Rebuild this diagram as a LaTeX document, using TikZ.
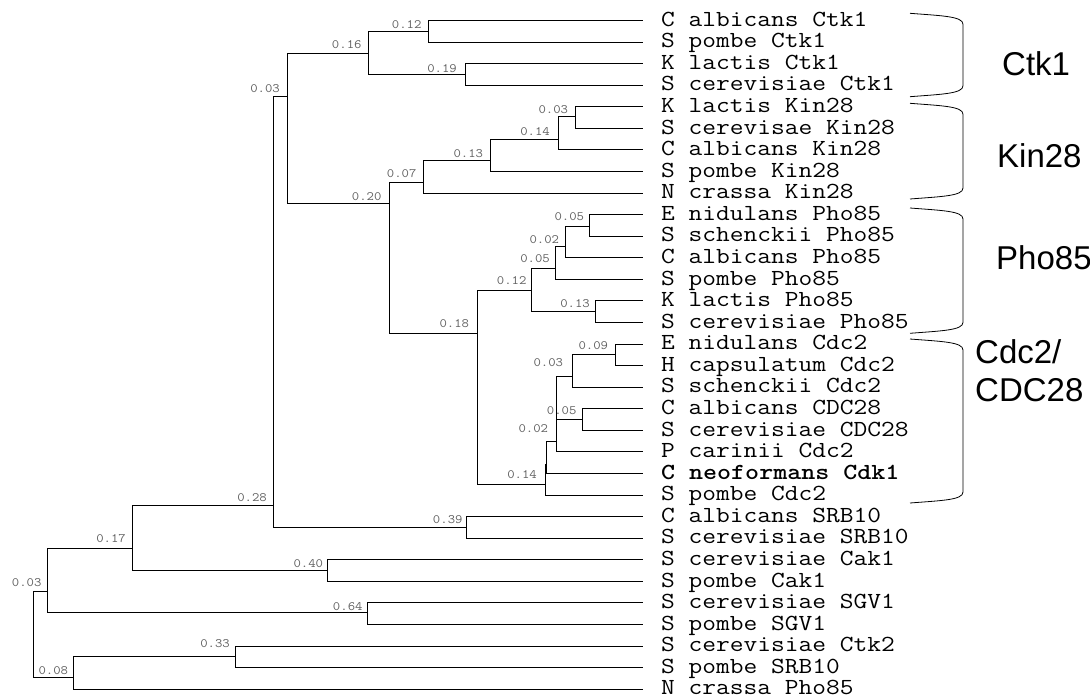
\documentclass[tikz,border=0pt]{standalone}
\usepackage{fontspec}
\newfontfamily\grpfont{Liberation Sans}
\begin{document}
\begin{tikzpicture}[x=1pt,y=-1pt,
  br/.style={line width=0.9pt, black},
  leaf/.style={anchor=base west, inner sep=0pt, font=\fontsize{23}{23}\selectfont\ttfamily},
  blen/.style={anchor=base east, inner sep=0pt, text=black!62, font=\fontsize{12.8}{12.8}\selectfont\ttfamily},
  grp/.style={anchor=base west, inner sep=0pt, align=left, font=\fontsize{33}{38}\selectfont\grpfont},
  brk/.style={line width=0.8pt, black}]
\useasboundingbox (0,0) rectangle (1090,696);

% leaves
\foreach \i/\t in {0/C albicans Ctk1, 1/S pombe Ctk1, 2/K lactis Ctk1, 3/S cerevisiae Ctk1,
  4/K lactis Kin28, 5/S cerevisae Kin28, 6/C albicans Kin28, 7/S pombe Kin28, 8/N crassa Kin28,
  9/E nidulans Pho85, 10/S schenckii Pho85, 11/C albicans Pho85, 12/S pombe Pho85,
  13/K lactis Pho85, 14/S cerevisiae Pho85, 15/E nidulans Cdc2, 16/H capsulatum Cdc2,
  17/S schenckii Cdc2, 18/C albicans CDC28, 19/S cerevisiae CDC28, 20/P carinii Cdc2,
  21/\textbf{C neoformans Cdk1}, 22/S pombe Cdc2, 23/C albicans SRB10, 24/S cerevisiae SRB10,
  25/S cerevisiae Cak1, 26/S pombe Cak1, 27/S cerevisiae SGV1, 28/S pombe SGV1,
  29/S cerevisiae Ctk2, 30/S pombe SRB10, 31/N crassa Pho85} {
  \coordinate (L\i) at (643.3, 20.5+21.57*\i);
  \node[leaf] (T\i) at (661, 26.2+21.57*\i) {\scalebox{1.16}[1]{\t}};
}

% internal nodes (x of vertical, y of incoming branch)
\coordinate (nA) at (428.3,31.5);
\coordinate (nB) at (465,74.7);
\coordinate (nC) at (368.3,53.2);
\coordinate (nD) at (287.3,96.7);
\coordinate (nE) at (389.3,203.3);
\coordinate (nF) at (423.3,182.7);
\coordinate (nG) at (490,160.7);
\coordinate (nH) at (558.3,139);
\coordinate (nI) at (575,116.7);
\coordinate (nJ) at (531.7,290);
\coordinate (nK) at (477.3,333.3);
\coordinate (nL) at (589.3,226);
\coordinate (nM) at (565,246.7);
\coordinate (nN) at (555,268.7);
\coordinate (nO) at (595.7,311.7);
\coordinate (nP) at (615.7,354.3);
\coordinate (nQ) at (572.3,376.7);
\coordinate (nR) at (582.7,419.3);
\coordinate (nS) at (556.7,441);
\coordinate (nT) at (546.7,464);
\coordinate (nU) at (545,484);
\coordinate (nV) at (466.7,527.3);
\coordinate (nW) at (273.3,505.7);
\coordinate (nX) at (132.3,548.3);
\coordinate (nY) at (327.7,570);
\coordinate (nZ) at (47.3,591.7);
\coordinate (nAA) at (367.7,612.7);
\coordinate (nBB) at (73.3,677.7);
\coordinate (nCC) at (235.7,656);
\coordinate (nRoot) at (33.3,634);

% branches
\draw[br] (nA) |- (L0)  (nA) |- (L1);
\draw[br] (nB) |- (L2)  (nB) |- (L3);
\draw[br] (nC) |- (nA)  (nC) |- (nB);
\draw[br] (nI) |- (L4)  (nI) |- (L5);
\draw[br] (nH) |- (nI)  (nH) |- (L6);
\draw[br] (nG) |- (nH)  (nG) |- (L7);
\draw[br] (nF) |- (nG)  (nF) |- (L8);
\draw[br] (nL) |- (L9)  (nL) |- (L10);
\draw[br] (nM) |- (nL)  (nM) |- (L11);
\draw[br] (nN) |- (nM)  (nN) |- (L12);
\draw[br] (nO) |- (L13) (nO) |- (L14);
\draw[br] (nJ) |- (nN)  (nJ) |- (nO);
\draw[br] (nP) |- (L15) (nP) |- (L16);
\draw[br] (nQ) |- (nP)  (nQ) |- (L17);
\draw[br] (nR) |- (L18) (nR) |- (L19);
\draw[br] (nS) |- (nQ)  (nS) |- (nR)  (nS) |- (L20);
\draw[br] (nT) |- (nS)  (nT) |- (L21);
\draw[br] (nU) |- (nT)  (nU) |- (L22);
\draw[br] (nK) |- (nJ)  (nK) |- (nU);
\draw[br] (nE) |- (nF)  (nE) |- (nK);
\draw[br] (nD) |- (nC)  (nD) |- (nE);
\draw[br] (nV) |- (L23) (nV) |- (L24);
\draw[br] (nW) |- (nD)  (nW) |- (nV);
\draw[br] (nY) |- (L25) (nY) |- (L26);
\draw[br] (nX) |- (nW)  (nX) |- (nY);
\draw[br] (nAA) |- (L27) (nAA) |- (L28);
\draw[br] (nZ) |- (nX)  (nZ) |- (nAA);
\draw[br] (nCC) |- (L29) (nCC) |- (L30);
\draw[br] (nBB) |- (nCC) (nBB) |- (L31);
\draw[br] (nRoot) |- (nZ) (nRoot) |- (nBB);

% branch lengths
\foreach \n/\x/\y/\v in {A/421.7/28.3/0.12, B/457/72.1/0.19, C/361.7/48.8/0.16, D/280/92.1/0.03,
  E/381.7/200.5/0.20, F/416.7/177.8/0.07, G/483.3/157.1/0.13, H/550/135.5/0.14, I/568.3/113.8/0.03,
  J/526.7/284.5/0.12, K/469.3/327.8/0.18, L/584.3/220.5/0.05, M/559.3/243.1/0.02, N/550/262.1/0.05,
  O/590/307.1/0.13, P/608.3/349.5/0.09, Q/563.3/366.1/0.03, R/576.7/414.5/0.05, S/548.3/432.8/0.02,
  U/537/478.8/0.14, V/462.7/523.8/0.39, W/267/501.8/0.28, X/126/542.8/0.17, Y/323.3/567.1/0.40,
  AA/362.7/610.5/0.64, Z/41.7/586.5/0.03, BB/68.3/674.8/0.08, CC/230/647.8/0.33} {
  \node[blen] (b\n) at (\x,\y) {\scalebox{1.12}[1]{\v}};
}

% group brackets
\foreach \t/\b in {13.3/96.7, 103.3/199, 208/333.3, 339/503} {
  \draw[brk] (910,\t) .. controls (942,\t+2.5) and (963,\t+3) .. (963,\t+11)
    -- (963,\b-11) .. controls (963,\b-3) and (942,\b-2.5) .. (910,\b);
}

% group labels
\node[grp] (gCtk) at (1002,75) {Ctk1};
\node[grp] (gKin) at (997,167) {Kin28};
\node[grp] (gPho) at (996,269) {Pho85};
\node[grp] (gCdc) at (975,401.8) {Cdc2/\\CDC28};
\end{tikzpicture}
\end{document}
